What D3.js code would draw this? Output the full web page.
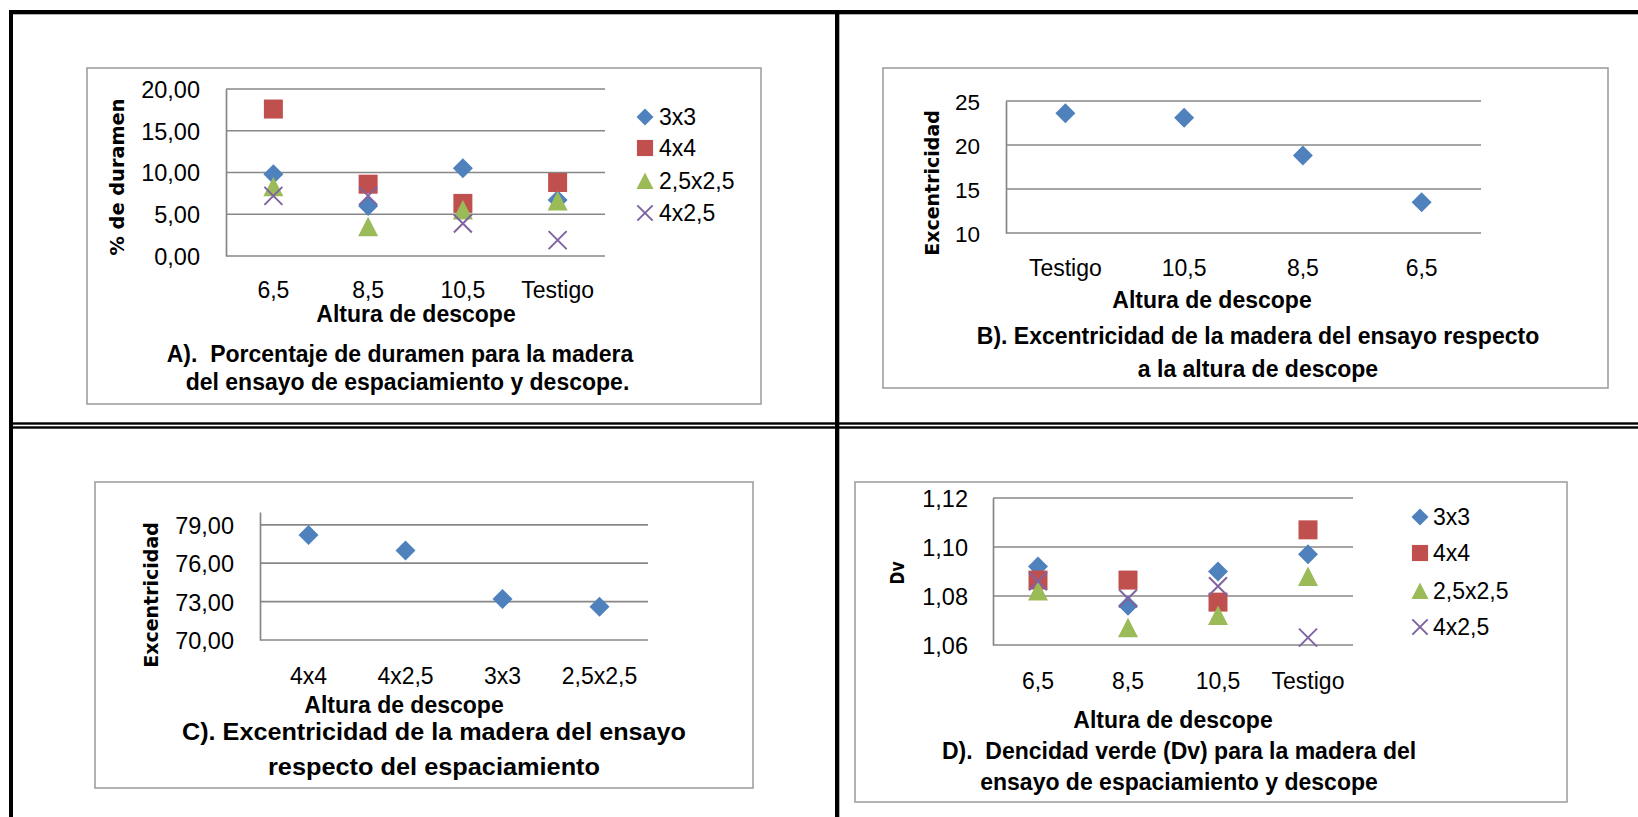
<!DOCTYPE html>
<html><head><meta charset="utf-8">
<script src="https://cdn.jsdelivr.net/npm/d3@7"></script>
<style>body{margin:0;background:#fff} svg{display:block}</style>
</head><body>
<svg id="c" width="1638" height="817"></svg>
<script>
// ---------------- DATA ----------------
const alturaCats = ["6,5", "8,5", "10,5", "Testigo"];
const seriesNames = ["3x3", "4x4", "2,5x2,5", "4x2,5"];
// A) % de duramen
const duramen_3x3   = [9.8, 6.0, 10.5, 6.7];
const duramen_4x4   = [17.6, 8.6, 6.3, 8.8];
const duramen_25x25 = [8.3, 3.5, 5.5, 6.6];
const duramen_4x25  = [7.2, 7.2, 3.9, 1.9];
const yTicksA = [0, 5, 10, 15, 20];
// B) Excentricidad vs altura
const excAlturaCats = ["Testigo", "10,5", "8,5", "6,5"];
const excAltura = [23.6, 23.1, 18.8, 13.5];
const yTicksB = [10, 15, 20, 25];
// C) Excentricidad vs espaciamiento
const espacCats = ["4x4", "4x2,5", "3x3", "2,5x2,5"];
const excEspac = [78.2, 77.0, 73.2, 72.6];
const yTicksC = [70, 73, 76, 79];
// D) Densidad verde
const dv_3x3   = [1.092, 1.076, 1.090, 1.097];
const dv_4x4   = [1.0865, 1.0865, 1.0775, 1.107];
const dv_25x25 = [1.082, 1.067, 1.072, 1.088];
const dv_4x25  = [1.086, 1.079, 1.084, 1.063];
const yTicksD = [1.06, 1.08, 1.10, 1.12];

// ---------------- STYLE ----------------
const COLORS = {"3x3": "#4F81BD", "4x4": "#C0504D", "2,5x2,5": "#9BBB59", "4x2,5": "#8064A2"};
const SHAPES = {"3x3": "diamond", "4x4": "square", "2,5x2,5": "triangle", "4x2,5": "x"};
const FONT = "'Liberation Sans', Arial, sans-serif";
const YFONT = "'DejaVu Sans', Verdana, sans-serif";
const GRID = "#878787";
const BOX = "#a0a0a0";

const loc = d3.formatLocale({decimal: ",", thousands: ".", grouping: [3], currency: ["", ""]});
const f2 = loc.format(".2f");
const f0 = loc.format("d");

const svg = d3.select("#c");
svg.append("rect").attr("width", 1638).attr("height", 817).attr("fill", "#fff");

function markerPath(shape, s) {
  const h = s / 2;
  if (shape === "diamond") return `M0,${-h}L${h},0L0,${h}L${-h},0Z`;
  if (shape === "square") { const q = h * 0.95; return `M${-q},${-q}H${q}V${q}H${-q}Z`; }
  if (shape === "triangle") return `M0,${-h}L${h},${h * 0.95}L${-h},${h * 0.95}Z`;
  const q = h * 0.9;
  return `M${-q},${-q}L${q},${q}M${q},${-q}L${-q},${q}`;
}
function drawMarker(g, name, x, y, s) {
  const shape = SHAPES[name];
  const p = g.append("path").attr("transform", `translate(${x},${y})`).attr("d", markerPath(shape, s));
  if (shape === "x") p.attr("fill", "none").attr("stroke", COLORS[name]).attr("stroke-width", 2);
  else p.attr("fill", COLORS[name]);
}
function fitText(sel, w) {
  const L = sel.node().getComputedTextLength();
  if (w && Math.abs(L - w) / w > 0.015) sel.attr("textLength", w).attr("lengthAdjust", "spacingAndGlyphs");
}

function panel(cfg) {
  const g = svg.append("g");
  const [bx0, by0, bx1, by1] = cfg.box;
  g.append("rect").attr("x", bx0).attr("y", by0).attr("width", bx1 - bx0).attr("height", by1 - by0)
    .attr("fill", "#fff").attr("stroke", BOX).attr("stroke-width", 1.6);

  const p = cfg.plot;
  const x = d3.scaleBand().domain(cfg.cats).range([p.l, p.r]).padding(0);
  const y = d3.scaleLinear().domain(cfg.domain).range([p.b, p.t]);

  // gridlines
  g.append("g").selectAll("line").data(cfg.ticks).join("line")
    .attr("x1", p.l).attr("x2", p.r).attr("y1", d => y(d)).attr("y2", d => y(d))
    .attr("stroke", GRID).attr("stroke-width", 1.7);

  // y axis
  const ya = g.append("g").attr("transform", `translate(${p.l},0)`)
    .call(d3.axisLeft(y).tickValues(cfg.ticks).tickFormat(cfg.fmt).tickSize(0).tickPadding(cfg.pad));
  ya.select(".domain").attr("stroke", GRID).attr("stroke-width", 1.7);
  ya.selectAll("text").attr("font-family", FONT).attr("font-size", cfg.tickSize).attr("fill", "#000").attr("dy", "0.36em");

  // x axis
  const xa = g.append("g").attr("transform", `translate(0,${p.b})`)
    .call(d3.axisBottom(x).tickSize(0).tickPadding(0));
  xa.select(".domain").remove();
  xa.selectAll("text").attr("font-family", FONT).attr("font-size", 23).attr("fill", "#000")
    .attr("y", cfg.xlabOff).attr("dy", "0.36em");

  // titles
  const xt = g.append("text").attr("x", cfg.xtitle[0]).attr("y", cfg.xtitle[1]).attr("dy", "0.36em")
    .attr("text-anchor", "middle").attr("font-family", FONT).attr("font-weight", "bold")
    .attr("font-size", 23).text("Altura de descope");
  fitText(xt, 199);
  const yt = g.append("text").attr("transform", `translate(${cfg.ytitle[0]},${cfg.ytitle[1]}) rotate(-90)`)
    .attr("dy", "0.36em").attr("text-anchor", "middle").attr("font-family", YFONT)
    .attr("font-weight", "bold").attr("font-size", 19).text(cfg.ytitle[2]);
  fitText(yt, cfg.ytitle[3]);

  // captions
  cfg.caption.forEach(c => {
    const t = g.append("text").attr("x", c[1]).attr("y", c[2]).attr("dy", "0.36em")
      .attr("text-anchor", "middle").attr("font-family", FONT).attr("font-weight", "bold")
      .attr("font-size", 23).style("white-space", "pre").text(c[0]);
    fitText(t, c[3]);
  });

  // markers
  const mg = g.append("g");
  cfg.series.forEach(s => {
    s.values.forEach((v, i) => drawMarker(mg, s.name, x(cfg.cats[i]) + x.bandwidth() / 2, y(v), 20));
  });

  // legend
  if (cfg.legend) {
    const L = cfg.legend;
    cfg.series.forEach((s, i) => {
      drawMarker(g, s.name, L.mx, L.ys[i], 17);
      g.append("text").attr("x", L.tx).attr("y", L.ys[i]).attr("dy", "0.36em")
        .attr("font-family", FONT).attr("font-size", 23).attr("fill", "#000").text(s.name);
    });
  }
}

// ---------------- TABLE FRAME ----------------
const frame = svg.append("g").attr("fill", "#000");
frame.append("rect").attr("x", 9).attr("y", 10).attr("width", 1629).attr("height", 4.3);
frame.append("rect").attr("x", 9).attr("y", 10).attr("width", 4).attr("height", 807);
frame.append("rect").attr("x", 13).attr("y", 422.3).attr("width", 1625).attr("height", 2.4);
frame.append("rect").attr("x", 13).attr("y", 426.3).attr("width", 1625).attr("height", 2.4);
frame.append("rect").attr("x", 835).attr("y", 10).attr("width", 4.3).attr("height", 807);

// ---------------- PANELS ----------------
panel({
  box: [87, 68, 761, 404],
  plot: {l: 226, r: 605, t: 89, b: 256},
  domain: [0, 20], ticks: yTicksA, fmt: f2, pad: 26, tickSize: 23.5,
  cats: alturaCats, xlabOff: 34,
  series: [
    {name: seriesNames[0], values: duramen_3x3},
    {name: seriesNames[1], values: duramen_4x4},
    {name: seriesNames[2], values: duramen_25x25},
    {name: seriesNames[3], values: duramen_4x25}
  ],
  legend: {mx: 645, tx: 659, ys: [117, 148, 181, 213]},
  xtitle: [416, 314],
  ytitle: [117, 177, "% de duramen", 157],
  caption: [["A).  Porcentaje de duramen para la madera", 400, 353.5, 470],
            ["del ensayo de espaciamiento y descope.", 407.5, 382, 449]]
});

panel({
  box: [883, 68, 1608, 388],
  plot: {l: 1006, r: 1481, t: 101, b: 233},
  domain: [10, 25], ticks: yTicksB, fmt: f0, pad: 26, tickSize: 22.5,
  cats: excAlturaCats, xlabOff: 35,
  series: [{name: seriesNames[0], values: excAltura}],
  xtitle: [1212, 300],
  ytitle: [932, 183, "Excentricidad", 145],
  caption: [["B). Excentricidad de la madera del ensayo respecto", 1258, 336, 562],
            ["a la altura de descope", 1258, 369, 239]]
});

panel({
  box: [95, 482, 753, 788],
  plot: {l: 260, r: 648, t: 512, b: 640},
  domain: [70, 80], ticks: yTicksC, fmt: f2, pad: 26, tickSize: 23.5,
  cats: espacCats, xlabOff: 36,
  series: [{name: seriesNames[0], values: excEspac}],
  xtitle: [404, 705],
  ytitle: [151, 595, "Excentricidad", 145],
  caption: [["C). Excentricidad de la madera del ensayo", 434, 732, 504],
            ["respecto del espaciamiento", 434, 767, 332]]
});

panel({
  box: [855, 482, 1567, 802],
  plot: {l: 993, r: 1353, t: 498, b: 645},
  domain: [1.06, 1.12], ticks: yTicksD, fmt: f2, pad: 25, tickSize: 23.5,
  cats: alturaCats, xlabOff: 36,
  series: [
    {name: seriesNames[0], values: dv_3x3},
    {name: seriesNames[1], values: dv_4x4},
    {name: seriesNames[2], values: dv_25x25},
    {name: seriesNames[3], values: dv_4x25}
  ],
  legend: {mx: 1420, tx: 1433, ys: [517, 553, 591, 627]},
  xtitle: [1173, 720],
  ytitle: [897, 573, "Dv", 23],
  caption: [["D).  Dencidad verde (Dv) para la madera del", 1179, 751, 481],
            ["ensayo de espaciamiento y descope", 1179, 782, 395]]
});
</script>
</body></html>
